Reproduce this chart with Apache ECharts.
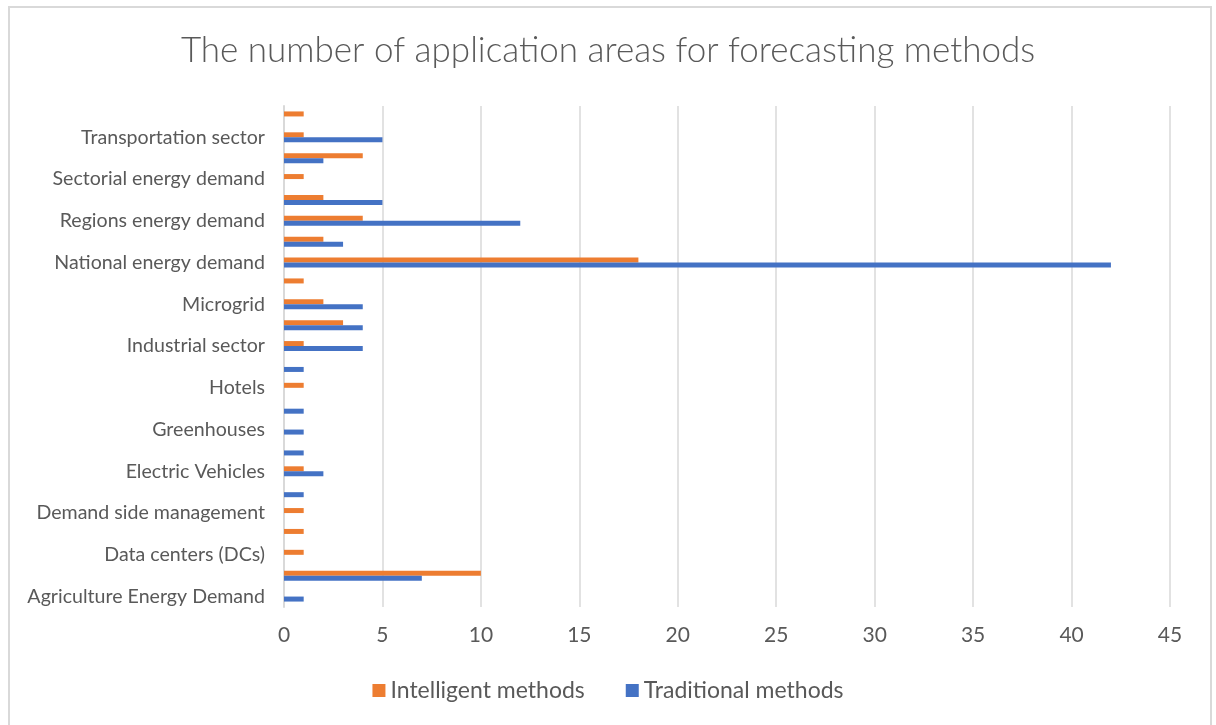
<!DOCTYPE html>
<html>
<head>
<meta charset="utf-8">
<script src="https://cdn.jsdelivr.net/npm/echarts@6/dist/echarts.min.js"></script>
<style>
  html, body { margin: 0; padding: 0; background: #ffffff; }
  #chart { width: 1216px; height: 725px; }
</style>
</head>
<body>
<div id="chart"></div>
<script>
// Application areas, listed bottom to top along the category axis
const categories = [
  'Agriculture Energy Demand',
  'Buildings',
  'Data centers (DCs)',
  'Demand response',
  'Demand side management',
  'Educational buildings',
  'Electric Vehicles',
  'Energy storage',
  'Greenhouses',
  'Heating and cooling',
  'Hotels',
  'Households',
  'Industrial sector',
  'Lighting',
  'Microgrid',
  'Mining sector',
  'National energy demand',
  'Power systems',
  'Regions energy demand',
  'Residential buildings',
  'Sectorial energy demand',
  'Smart grid',
  'Transportation sector',
  'Universities'
];

// Number of studies per area
const intelligentMethods = [0, 10, 1, 1, 1, 0, 1, 0, 0, 0, 1, 0, 1, 3, 2, 1, 18, 2, 4, 2, 1, 4, 1, 1];
const traditionalMethods = [1, 7, 0, 0, 0, 1, 2, 1, 1, 1, 0, 1, 4, 4, 4, 0, 42, 3, 12, 5, 0, 2, 5, 0];

const xTicks = { min: 0, max: 45, interval: 5 };

const textColor = '#595959';
const fontFamily = 'Lato, "Open Sans", "Noto Sans", sans-serif';

const chart = echarts.init(document.getElementById('chart'), null, { renderer: 'canvas' });

chart.setOption({
  backgroundColor: '#ffffff',
  animation: false,
  title: {
    text: 'The number of application areas for forecasting methods',
    left: 'center',
    top: 28,
    textStyle: { color: textColor, fontFamily: fontFamily, fontSize: 35, fontWeight: 300 }
  },
  graphic: [{
    type: 'rect',
    shape: { x: 9, y: 7, width: 1202, height: 730 },
    style: { fill: 'none', stroke: '#d9d9d9', lineWidth: 2 },
    silent: true
  }],
  legend: {
    bottom: 18,
    left: 'center',
    itemWidth: 13,
    itemHeight: 13,
    itemGap: 41,
    icon: 'rect',
    textStyle: { color: textColor, fontFamily: fontFamily, fontSize: 23 },
    data: ['Intelligent methods', 'Traditional methods']
  },
  grid: { left: 284, right: 46, top: 106, bottom: 118, containLabel: false },
  xAxis: {
    type: 'value',
    min: xTicks.min,
    max: xTicks.max,
    interval: xTicks.interval,
    axisLine: { show: false },
    axisTick: { show: false },
    axisLabel: { color: textColor, fontFamily: fontFamily, fontSize: 21, margin: 18 },
    splitLine: { show: true, lineStyle: { color: '#d9d9d9', width: 1.5 } }
  },
  yAxis: {
    type: 'category',
    data: categories,
    axisLine: { show: true, lineStyle: { color: '#d9d9d9', width: 2 } },
    axisTick: { show: false },
    axisLabel: { interval: 1, color: textColor, fontFamily: fontFamily, fontSize: 19.6, margin: 19 }
  },
  series: [
    {
      name: 'Intelligent methods',
      type: 'bar',
      data: intelligentMethods,
      barWidth: 5,
      barGap: '0%',
      itemStyle: { color: '#ED7D31' }
    },
    {
      name: 'Traditional methods',
      type: 'bar',
      data: traditionalMethods,
      barWidth: 5,
      barGap: '0%',
      itemStyle: { color: '#4472C4' }
    }
  ]
});
</script>
</body>
</html>
